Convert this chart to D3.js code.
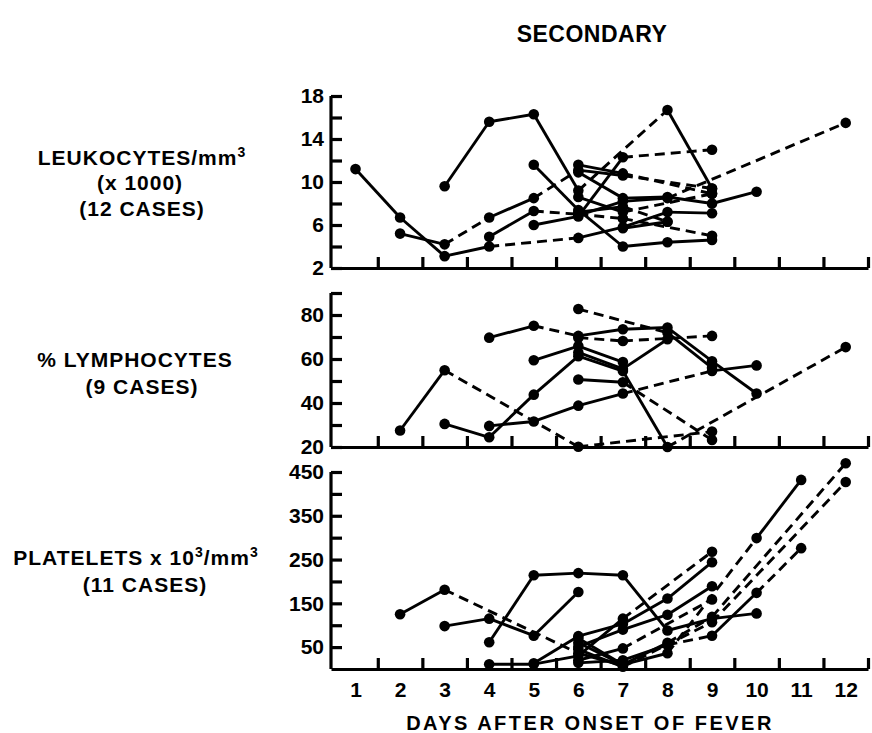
<!DOCTYPE html>
<html>
<head>
<meta charset="utf-8">
<script src="https://cdn.jsdelivr.net/npm/d3@7"></script>
<style>
  body { margin: 0; background: #fff; }
  svg { display: block; font-family: "Liberation Sans", Arial, sans-serif; font-weight: bold; }
  .axis path, .axis line { stroke: #000; stroke-width: 3.2; }
  .axis text { font-size: 21px; font-weight: bold; fill: #000; font-family: "Liberation Sans", Arial, sans-serif; }
</style>
</head>
<body>
<svg width="872" height="733"></svg>
<script>
// days after onset of fever
const days = [1, 2, 3, 4, 5, 6, 7, 8, 9, 10, 11, 12];
const dayTicks = [1.5, 2.5, 3.5, 4.5, 5.5, 6.5, 7.5, 8.5, 9.5, 10.5, 11.5, 12.5];

// leukocytes (x1000 / mm3), 12 cases; "s" solid segment, "d" dashed segment
const leukoTicks = [2, 4, 6, 8, 10, 12, 14, 16, 18];
const leukoLabels = [2, 6, 10, 14, 18];
const leukoCases = [
  [[1, 11.2], [2, 6.7], [3, 3.1], [4, 4.0], [6, 4.8], [7, 5.8], [8, 7.2], [9, 7.1]],
  [[2, 5.2], [3, 4.2], [4, 6.7], [5, 8.5], [6, 11.1], [7, 10.6], [9, 9.4]],
  [[3, 9.6], [4, 15.6], [5, 16.3], [6, 9.2], [8, 16.7], [9, 9.4]],
  [[4, 4.9], [5, 7.3], [6, 7.0], [7, 6.6], [9, 5.0]],
  [[5, 11.6], [6, 7.4], [7, 4.0], [8, 4.4], [9, 4.6]],
  [[5, 6.0], [6, 6.8], [7, 12.3], [9, 13.0]],
  [[6, 11.6], [7, 10.8], [9, 8.9]],
  [[6, 10.9], [7, 8.5], [8, 8.6], [9, 8.0], [10, 9.1]],
  [[6, 7.2], [7, 7.7], [8, 6.3]],
  [[6, 8.6], [7, 7.2], [9, 8.9]],
  [[7, 5.7], [8, 6.3]],
  [[6, 6.9], [7, 8.2], [8, 8.5], [12, 15.5]]
];
const leukoKinds = ["sssdsss", "sdsdsd", "sssds", "sddd", "ssss", "ssd", "sd", "ssss", "sd", "sd", "s", "ssd"];

// % lymphocytes, 9 cases
const lymphoTicks = [20, 30, 40, 50, 60, 70, 80, 90];
const lymphoLabels = [20, 40, 60, 80];
const lymphoCases = [
  [[2, 27.5], [3, 54.9], [6, 20.1], [9, 27.0]],
  [[3, 30.5], [4, 24.4], [5, 43.8], [6, 61.3], [7, 54.5], [8, 20.0], [12, 65.4]],
  [[4, 29.6], [5, 31.6], [6, 38.8], [7, 44.3], [9, 54.6], [10, 57.1]],
  [[4, 69.7], [5, 75.1], [6, 70.5], [7, 73.5], [8, 74.3], [9, 59.0], [10, 44.3]],
  [[5, 59.4], [6, 65.9], [7, 58.6]],
  [[6, 82.7], [8, 72.0], [9, 56.0]],
  [[6, 69.7], [7, 68.2], [9, 70.5]],
  [[6, 50.7], [7, 49.4], [9, 23.2]],
  [[6, 63.0], [7, 55.5], [8, 69.0]]
];
const lymphoKinds = ["sdd", "sssssd", "sssds", "sdssss", "ss", "ds", "dd", "sd", "ss"];

// platelets (x10^3 / mm3), 11 cases
const plateTicks = [50, 100, 150, 200, 250, 300, 350, 400, 450];
const plateLabels = [50, 150, 250, 350, 450];
const plateCases = [
  [[2, 125], [3, 181], [6, 36], [7, 8]],
  [[3, 98], [4, 115], [5, 76], [6, 176]],
  [[4, 61], [5, 214], [6, 219], [7, 214], [8, 88], [9, 115], [10, 127]],
  [[4, 11], [5, 11], [6, 30], [7, 115], [9, 268]],
  [[5, 13], [6, 75], [7, 103], [8, 161], [9, 244]],
  [[6, 51], [7, 90], [8, 124], [9, 189]],
  [[6, 20], [7, 47], [9, 159]],
  [[6, 14], [7, 20], [8, 55], [9, 76], [10, 174], [11, 276]],
  [[6, 60], [7, 10], [8, 36], [10, 299], [11, 432]],
  [[6, 45], [7, 5], [9, 107], [12, 427]],
  [[6, 70], [7, 10], [8, 60], [9, 119], [12, 470]]
];
const plateKinds = ["sds", "sss", "ssssss", "sssd", "ssss", "sss", "sd", "ssdsd", "ssds", "sdd", "ssdd"];

const svg = d3.select("svg");

const x = d3.scaleLinear().domain([0.45, 12.5]).range([331, 868]);

const panels = [
  { cases: leukoCases, kinds: leukoKinds, ticks: leukoTicks, labels: leukoLabels,
    y: d3.scaleLinear().domain([2, 18]).range([268, 96]) },
  { cases: lymphoCases, kinds: lymphoKinds, ticks: lymphoTicks, labels: lymphoLabels,
    y: d3.scaleLinear().domain([20, 90]).range([447, 293]) },
  { cases: plateCases, kinds: plateKinds, ticks: plateTicks, labels: plateLabels,
    y: d3.scaleLinear().domain([0, 450]).range([669, 472]) }
];

panels.forEach((p, idx) => {
  const g = svg.append("g");
  const [y0] = p.y.range();

  // y axis, ticks pointing inward
  g.append("g")
    .attr("class", "axis")
    .attr("transform", `translate(${x.range()[0]},0)`)
    .call(d3.axisLeft(p.y)
      .tickValues(p.ticks)
      .tickSize(-11)
      .tickSizeOuter(0)
      .tickPadding(7)
      .tickFormat(d => p.labels.includes(d) ? d : ""))
    .call(a => a.select(".domain").attr("d", `M0,${y0}V${p.y.range()[1]}`));

  // x axis with half-day ticks pointing up
  g.append("g")
    .attr("class", "axis")
    .attr("transform", `translate(0,${y0})`)
    .call(d3.axisBottom(x).tickValues(dayTicks).tickSize(-11).tickSizeOuter(0).tickFormat(""));

  if (idx === 2) {
    g.append("g")
      .attr("class", "axis")
      .attr("transform", `translate(0,${y0})`)
      .call(d3.axisBottom(x).tickValues(days).tickSize(0).tickPadding(13))
      .call(a => a.select(".domain").remove());
  }

  // segments
  const line = d3.line().x(d => x(d[0])).y(d => p.y(d[1]));
  p.cases.forEach((pts, ci) => {
    const kinds = p.kinds[ci];
    d3.pairs(pts).forEach((seg, si) => {
      g.append("path")
        .attr("d", line(seg))
        .attr("fill", "none")
        .attr("stroke", "#000")
        .attr("stroke-width", 2.9)
        .attr("stroke-dasharray", kinds[si] === "d" ? "10,6" : null);
    });
    g.selectAll(null)
      .data(pts)
      .enter()
      .append("circle")
      .attr("cx", d => x(d[0]))
      .attr("cy", d => p.y(d[1]))
      .attr("r", 5.3)
      .attr("fill", "#000");
  });
});

// titles
const txt = (s, cx, cy, size) => svg.append("text")
  .attr("x", cx).attr("y", cy)
  .attr("text-anchor", "middle")
  .style("font-size", size + "px")
  .style("letter-spacing", "1px")
  .text(s);

txt("SECONDARY", 592, 42, 23).style("letter-spacing", "0.5px");

const lk = txt("LEUKOCYTES/mm", 142, 165, 21);
lk.append("tspan").attr("dy", -8).style("font-size", "14px").text("3");
txt("(x 1000)", 140, 190, 21);
txt("(12 CASES)", 142, 216, 21);

txt("% LYMPHOCYTES", 135, 367, 21);
txt("(9 CASES)", 142, 394, 21);

const pl = txt("PLATELETS x 10", 136, 565, 21);
pl.append("tspan").attr("dy", -8).style("font-size", "14px").text("3");
pl.append("tspan").attr("dy", 8).text("/mm");
pl.append("tspan").attr("dy", -8).style("font-size", "14px").text("3");
txt("(11 CASES)", 145, 592, 21);

txt("DAYS AFTER ONSET OF FEVER", 590, 730, 20).style("letter-spacing", "2.5px");
</script>
</body>
</html>
